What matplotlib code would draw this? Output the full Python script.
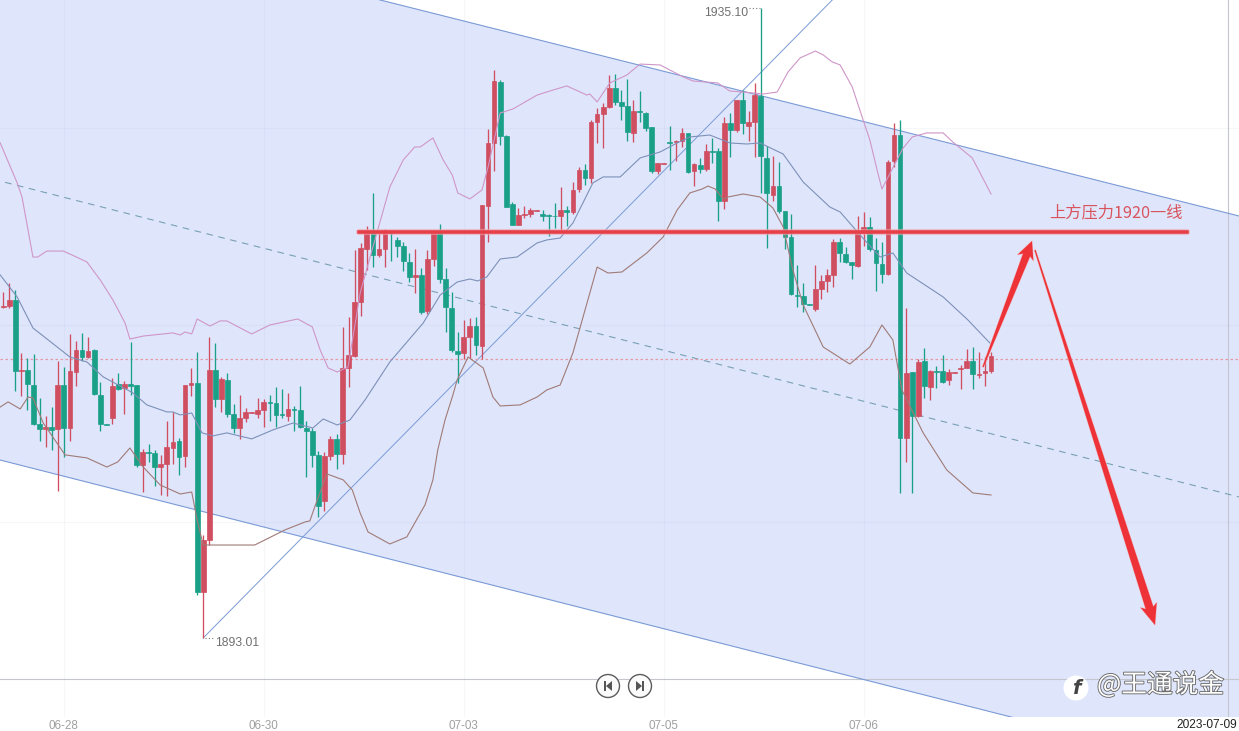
import matplotlib
matplotlib.use("Agg")
import matplotlib.pyplot as plt
import matplotlib.patheffects as pe
import numpy as np

opens = [1915.10,1915.21,1915.59,1910.87,1910.91,1909.91,1907.30,1906.99,1907.08,1906.95,
1909.91,1907.06,1910.80,1912.25,1911.78,1912.25,1909.24,1907.30,1907.70,1909.95,
1909.69,1909.95,1909.91,1904.59,1905.43,1905.39,1904.45,1904.63,1905.72,1906.19,
1905.19,1909.91,1910.05,1896.08,1899.56,1910.91,1908.97,1910.24,1907.97,1907.04,
1907.70,1908.06,1907.95,1908.24,1908.77,1908.68,1907.95,1907.84,1908.28,1908.24,
1907.01,1906.81,1905.23,1902.18,1905.19,1906.28,1905.30,1911.02,
1911.84,1915.47,1918.99,1920.04,1918.59,1918.99,1920.08,1919.59,1919.19,1918.15,
1917.14,1917.26,1914.87,1918.32,1920.04,1916.99,1915.05,1912.18,1912.07,1913.11,
1913.85,1912.53,1921.89,1926.10,1930.17,1926.54,1922.00,1920.62,1921.26,1921.33,
1921.55,1921.33,1921.26,1921.22,1921.20,1921.60,1921.44,1923.00,1924.27,1923.76,
1927.50,1928.01,1928.50,1929.77,1928.84,1928.55,1926.77,1928.21,1928.10,1927.17,
1924.23,1924.67,1926.12,1926.17,1926.23,1926.72,1924.21,1924.59,1924.34,1925.54,
1925.54,1922.18,1927.39,1926.95,1928.95,1927.23,1927.50,1929.24,1925.05,1922.62,
1923.20,1921.51,1919.77,1915.94,1915.85,1915.32,1914.99,1916.32,1916.86,1917.26,
1919.46,1918.64,1918.13,1917.86,1920.04,1920.49,1918.93,1917.99,1917.32,1924.87,
1926.61,1906.34,1910.80,1907.86,1911.51,1909.80,1910.84,1910.84,1910.26,1910.71,
1910.95,1911.06,1911.51,1910.57,1910.69,1910.84]

highs = [1916.14,1916.70,1916.26,1912.02,1911.69,1911.96,1909.02,1907.84,1908.42,1911.51,
1911.13,1913.32,1912.85,1913.36,1913.09,1912.29,1910.09,1907.30,1910.35,1910.69,
1910.18,1912.76,1909.91,1905.61,1905.97,1905.57,1905.23,1907.50,1908.11,1906.35,
1909.91,1911.02,1912.12,1899.89,1913.12,1912.69,1910.47,1910.69,1908.64,1909.24,
1908.35,1908.11,1909.02,1908.95,1909.24,1909.75,1909.62,1909.35,1908.53,1909.86,
1907.50,1907.01,1905.52,1905.41,1906.50,1906.63,1913.81,1914.47,
1918.93,1919.42,1920.53,1922.71,1920.08,1920.31,1920.08,1919.82,1919.48,1918.75,
1918.97,1917.70,1918.93,1920.22,1920.66,1917.70,1916.14,1913.47,1914.25,1914.36,
1914.47,1921.93,1926.99,1930.95,1930.28,1926.61,1922.16,1921.71,1921.89,1921.75,
1921.60,1921.60,1921.33,1922.04,1923.16,1921.87,1923.49,1924.49,1924.67,1927.61,
1928.39,1928.72,1930.62,1930.68,1929.62,1930.33,1928.95,1929.55,1928.17,1927.17,
1924.76,1924.72,1927.21,1926.28,1927.06,1926.77,1924.72,1925.05,1926.01,1926.39,
1925.72,1927.84,1928.06,1928.95,1929.62,1928.21,1930.06,1935.10,1925.88,1925.21,
1924.78,1921.51,1921.33,1917.93,1916.70,1915.32,1917.93,1917.26,1917.64,1919.66,
1919.71,1919.15,1918.15,1921.20,1921.49,1921.15,1919.75,1919.48,1924.94,1927.44,
1927.61,1915.03,1910.80,1911.62,1912.36,1910.91,1911.18,1911.91,1910.95,1910.75,
1911.24,1912.31,1912.42,1912.09,1911.75,1912.13]

lows = [1915.03,1915.03,1909.53,1909.20,1908.24,1907.24,1906.17,1905.79,1905.57,1902.85,
1905.12,1906.17,1909.84,1911.53,1911.73,1909.24,1906.86,1907.26,1907.30,1909.57,
1907.97,1909.24,1904.41,1902.76,1904.79,1903.16,1902.56,1902.52,1904.63,1903.90,
1904.45,1909.17,1895.88,1893.01,1899.22,1908.46,1908.13,1907.75,1906.72,1906.28,
1907.44,1908.06,1907.68,1907.13,1907.50,1907.13,1907.68,1907.50,1906.86,1907.06,
1903.79,1904.45,1901.11,1901.51,1904.90,1904.30,1904.63,1909.75,
1911.80,1914.52,1917.59,1917.81,1918.44,1917.81,1918.21,1918.48,1917.55,1916.81,
1916.08,1914.65,1914.65,1917.86,1916.70,1913.47,1912.13,1910.06,1911.67,1911.69,
1911.91,1911.62,1919.48,1924.23,1925.94,1921.78,1920.57,1920.57,1921.04,1921.11,
1921.55,1920.84,1919.88,1920.37,1920.15,1920.53,1921.33,1922.82,1923.27,1923.42,
1926.05,1925.76,1928.39,1928.61,1927.61,1926.21,1926.16,1927.50,1926.90,1924.09,
1923.98,1924.67,1924.27,1924.90,1925.83,1924.05,1923.23,1924.09,1924.23,1924.72,
1920.89,1921.67,1925.16,1926.83,1926.66,1926.21,1925.16,1922.71,1919.04,1922.22,
1921.38,1918.99,1915.92,1915.14,1914.81,1915.28,1914.87,1915.63,1916.14,1916.43,
1918.10,1918.08,1916.97,1917.81,1919.22,1918.88,1916.21,1916.70,1917.26,1924.49,
1902.70,1904.74,1902.71,1907.79,1909.02,1908.90,1909.68,1910.02,1909.91,1910.71,
1909.64,1911.02,1909.64,1910.35,1909.84,1910.73]

closes = [1915.19,1915.59,1910.87,1910.91,1909.98,1907.30,1906.97,1907.08,1906.90,1909.91,
1907.06,1910.84,1912.25,1911.76,1912.18,1909.29,1907.30,1907.26,1909.84,1909.66,
1909.98,1909.86,1904.59,1905.43,1905.39,1904.43,1904.63,1905.79,1906.10,1905.12,
1909.91,1910.02,1896.08,1899.56,1910.91,1908.97,1910.31,1907.97,1907.04,1907.70,
1908.11,1908.11,1908.22,1908.77,1908.73,1907.90,1907.90,1908.31,1908.24,1907.13,
1906.84,1905.23,1901.83,1905.17,1906.30,1905.30,1911.02,1911.91,
1915.45,1919.04,1920.08,1918.59,1918.99,1920.04,1920.04,1919.19,1918.19,1917.14,
1917.26,1914.76,1918.30,1920.08,1916.99,1915.14,1912.25,1912.00,1913.11,1913.85,
1912.58,1921.93,1926.07,1930.22,1926.54,1921.82,1920.62,1921.26,1921.33,1921.60,
1921.60,1921.22,1921.22,1921.18,1921.60,1921.46,1922.93,1924.27,1923.76,1927.50,
1928.01,1928.46,1929.77,1928.84,1928.55,1926.83,1928.21,1928.17,1927.08,1924.23,
1924.72,1924.72,1926.08,1926.23,1926.72,1924.14,1924.67,1924.36,1925.54,1925.50,
1922.18,1927.39,1926.95,1928.95,1927.39,1927.46,1929.28,1925.23,1922.76,1923.20,
1921.56,1919.77,1915.99,1915.88,1915.32,1915.28,1916.30,1916.86,1917.26,1919.46,
1918.75,1918.15,1917.95,1920.11,1920.49,1918.97,1918.08,1917.32,1924.78,1926.61,
1906.37,1910.73,1907.86,1911.42,1909.86,1910.84,1910.80,1910.13,1910.75,1910.75,
1911.04,1911.51,1910.66,1910.64,1910.82,1911.87]

upper_x = [-1.5,1.3,2.1,3.9,4.7,6.2,8.9,10.0,12.8,15.0,17.1,19.1,19.9,22.1,27.0,28.2,29.0,30.1,31.0,33.1,34.8,35.9,40.0,43.0,47.6,50.0,51.3,52.6,54.1,55.9,57.9,60.0,62.8,65.0,66.9,67.8,69.9,71.6,73.1,74.0,76.0,78.0,79.0,81.0,83.1,87.1,89.2,92.0,95.3,95.8,97.0,99.1,101.9,104.1,107.4,111.2,112.8,116.9,118.9,121.1,124.4,126.7,128.5,130.5,133.0,134.3,135.8,137.1,139.1,140.9,142.0,143.2,144.0,146.2,147.5,149.0,151.4,154.1,155.7,158.9,162.0]
upper = [1926.08,1923.41,1922.47,1918.46,1918.46,1918.86,1918.86,1918.66,1918.13,1916.93,1915.59,1914.05,1912.98,1913.18,1913.39,1913.25,1913.45,1913.32,1914.32,1913.85,1914.19,1914.19,1913.32,1913.92,1914.32,1913.79,1912.25,1911.05,1910.78,1911.11,1916.06,1919.13,1923.14,1924.94,1925.81,1925.81,1926.41,1924.94,1923.94,1922.74,1922.34,1922.94,1924.47,1928.08,1928.35,1929.28,1929.55,1929.89,1929.28,1929.35,1928.82,1930.09,1930.62,1931.35,1931.29,1930.49,1930.22,1930.09,1929.55,1929.48,1929.35,1929.48,1930.82,1931.76,1932.22,1931.96,1931.49,1931.29,1929.82,1927.61,1926.28,1924.27,1923.00,1924.74,1925.74,1926.48,1926.75,1926.75,1926.14,1925.08,1922.67]

middle_x = [-1.5,1.3,3.9,7.9,10.0,12.8,15.5,20.4,22.7,26.0,27.0,28.2,30.1,31.8,33.6,35.9,40.0,43.5,46.8,50.1,51.8,54.1,56.2,58.7,62.8,68.3,71.1,73.9,76.0,77.3,78.8,81.0,83.8,87.1,88.7,90.9,93.0,96.3,98.0,100.8,104.1,107.4,110.2,112.3,115.6,118.9,121.7,123.9,127.7,131.0,135.4,137.1,140.4,143.7,145.8,148.1,154.1,158.2,161.8]
middle = [1917.26,1915.79,1913.72,1912.45,1911.78,1911.45,1910.45,1909.38,1908.58,1908.11,1908.11,1907.91,1908.04,1906.71,1906.51,1906.71,1906.31,1906.91,1907.37,1907.04,1907.64,1907.24,1907.57,1908.91,1911.45,1914.05,1915.92,1916.79,1916.99,1916.86,1917.13,1918.33,1918.46,1919.40,1919.60,1919.73,1920.73,1923.41,1923.81,1923.81,1925.08,1925.48,1926.08,1926.48,1926.61,1926.08,1926.01,1926.08,1925.34,1923.47,1921.80,1921.47,1919.93,1918.46,1918.73,1917.39,1915.79,1914.25,1912.72]

lower_x = [-1.5,-0.2,1.8,3.1,3.9,5.6,9.2,12.8,16.1,17.9,19.9,22.1,24.9,28.2,30.1,31.0,32.0,40.5,45.5,48.8,49.6,50.4,52.4,55.1,56.6,57.9,59.2,62.8,65.6,68.6,69.9,70.7,71.9,73.2,73.9,75.7,78.2,79.8,81.0,84.3,87.1,88.7,90.9,93.0,95.8,97.0,98.8,101.1,105.2,107.9,110.2,112.3,114.3,115.3,116.5,117.8,118.6,121.1,123.9,126.0,127.7,129.3,131.0,134.3,138.7,142.0,144.0,145.8,147.3,150.8,154.7,159.0,162.0]
lower = [1908.44,1908.78,1908.31,1909.11,1909.04,1907.37,1905.24,1905.04,1904.43,1904.77,1905.70,1904.43,1903.23,1902.63,1902.76,1900.89,1899.22,1899.22,1900.23,1900.76,1900.83,1901.76,1903.97,1903.57,1902.90,1901.36,1900.09,1899.29,1899.76,1901.90,1903.57,1905.57,1907.57,1909.24,1910.25,1911.78,1911.05,1909.11,1908.51,1908.58,1909.11,1909.58,1909.91,1912.05,1916.06,1917.79,1917.39,1917.46,1918.73,1919.80,1921.60,1922.74,1923.00,1923.20,1923.00,1922.34,1922.47,1922.67,1922.47,1921.74,1920.47,1917.59,1915.26,1912.45,1911.31,1912.45,1913.92,1912.92,1909.58,1906.71,1904.23,1902.70,1902.56]

# channel and trend drawing
channel_x = [-1.535, 202.92]
channel_top = [1942.02, 1921.20]
channel_bot = [1904.90, 1883.86]
mid_x = [-0.7, 202.92]
channel_mid = [1923.45, 1902.43]
trend_x = [32.0, 135.8]
trend_y = [1893.01, 1935.63]
resist_x = [57.7, 194.3]
resist_y = [1920.10, 1920.10]
last_price = 1911.68
high_price = 1935.10
low_price = 1893.01

tick_pos = [9, 42, 75, 108, 141]
tick_labels = ["06-28", "06-30", "07-03", "07-05", "07-06"]
grid_prices = [1927.08, 1913.92, 1900.76]

RED = "#cf4e60"
GREEN = "#1ba088"
CJK = ["Noto Sans CJK SC", "DejaVu Sans"]
LAT = "Liberation Sans"

fig = plt.figure(figsize=(12.39, 7.31), dpi=100)
ax = fig.add_axes([0, 14 / 731, 1, 717 / 731])
ax.set_xlim(channel_x[0], channel_x[1])
ax.set_ylim(1887.73, 1935.63)
for s in ax.spines.values():
    s.set_visible(False)

ax.set_xticks(tick_pos)
ax.set_xticklabels(tick_labels, fontname=LAT, fontsize=8.4, color="#a0a0a0")
ax.set_yticks(grid_prices)
ax.set_yticklabels([])
ax.tick_params(length=0, pad=2.5)
ax.grid(True, color="#7f8fb0", alpha=0.07, lw=0.8, zorder=2)
ax.set_axisbelow(False)

ax.fill_between(channel_x, channel_top, channel_bot, color="#dfe6fc", lw=0, zorder=1)
ax.plot(channel_x, channel_top, color="#7a9ad6", lw=0.8, zorder=3)
ax.plot(channel_x, channel_bot, color="#7a9ad6", lw=0.8, zorder=3)
ax.plot(mid_x, channel_mid, color="#78a0b4", lw=0.8, ls=(0, (6, 5)), zorder=3)
ax.plot(trend_x, trend_y, color="#7a9ad6", lw=0.7, zorder=3)
ax.axhline(1890.27, color="#c3c6cc", lw=0.8, zorder=2)
ax.axvline(201.1, color="#c3c6cc", lw=0.8, zorder=2)
ax.axhline(last_price, color="#e39aa5", lw=0.9, ls=(0, (2, 2)), zorder=3)

# candles
idx = np.arange(-1, len(opens) - 1)
o = np.array(opens)
c = np.array(closes)
col = [RED if cl >= op else GREEN for op, cl in zip(o, c)]
ax.vlines(idx, lows, highs, colors=col, lw=0.95, zorder=4)
ax.bar(idx, np.abs(c - o), bottom=np.minimum(o, c), width=0.78, color=col, edgecolor=col, lw=0.5, zorder=5)

ax.plot(upper_x, upper, color="#cf96c8", lw=0.8, zorder=6)
ax.plot(middle_x, middle, color="#7d90b8", lw=0.8, zorder=6)
ax.plot(lower_x, lower, color="#a07a76", lw=0.8, zorder=6)

ax.plot(resist_x, resist_y, color="#f4a3a8", lw=4.4, alpha=0.6, solid_capstyle="round", zorder=7)
ax.plot(resist_x, resist_y, color="#e5404a", lw=2.6, zorder=8)

ax.annotate("1935.10", (124, high_price), xytext=(-13, -5), textcoords="offset pixels", ha="right", va="center",
            fontname=LAT, fontsize=8.7, color="#707070", zorder=9)
ax.annotate("1893.01", (32, low_price), xytext=(12, -5), textcoords="offset pixels", ha="left", va="center",
            fontname=LAT, fontsize=8.7, color="#707070", zorder=9)

# overlay in picture pixels for the hand drawn things
ann = fig.add_axes([0, 0, 1, 1])
ann.set_xlim(0, 1239)
ann.set_ylim(731, 0)
ann.axis("off")
ann.patch.set_alpha(0)

ann.plot([749, 760], [8, 8], color="#777777", lw=0.8, ls=(0, (1, 2)))
ann.plot([205, 214], [638, 638], color="#777777", lw=0.8, ls=(0, (1, 2)))

ann.text(1049, 213, "上方压力1920一线", family=CJK, fontsize=11.7, color="#d9535c", va="center", ha="left")


def brush_arrow(tail, tip, neck, wing, head):
    tail = np.array(tail, float)
    tip = np.array(tip, float)
    u = (tip - tail) / np.linalg.norm(tip - tail)
    n = np.array([-u[1], u[0]])
    base = tip - u * head
    pts = [tail + n * 0.6, base + n * neck, base + n * wing - u * 3, tip,
           base - n * wing - u * 3, base - n * neck, tail - n * 0.6]
    pts = np.array(pts)
    ann.fill(pts[:, 0], pts[:, 1], color="#ee3338", lw=0, zorder=10)
    ann.plot(pts[:, 0], pts[:, 1], color="#f7a9ab", lw=0.8, alpha=0.6, zorder=9)


brush_arrow((983, 367), (1032, 241), 3.8, 8.5, 15)
brush_arrow((1035, 250), (1155, 625), 4.0, 8.5, 18)

# next / previous buttons
for bx, flip in [(608, 1), (640, -1)]:
    ann.add_patch(plt.Circle((bx, 686), 11.5, fc="#fbfbfb", ec="#5c5c5c", lw=1, zorder=10))
    ann.fill([bx + flip * 4, bx - flip * 2, bx + flip * 4], [681, 686, 691], color="#555555", lw=0, zorder=11)
    ann.fill([bx - flip * 4, bx - flip * 2, bx - flip * 2, bx - flip * 4], [681, 681, 691, 691], color="#555555", lw=0, zorder=11)

# watermark
ann.add_patch(plt.Circle((1076, 688), 12.5, fc="#ffffff", ec="none", zorder=10))
ann.text(1076, 688, "f", family="DejaVu Sans", style="italic", weight="bold", fontsize=14, color="#444444", ha="center", va="center", zorder=11)
shadow = [pe.withStroke(linewidth=1.3, foreground="#6a6a6a")]
ann.text(1097, 685, "@王通说金", family=CJK, fontsize=18.5, color="#ffffff", ha="left", va="center",
         path_effects=shadow, zorder=11)

# crosshair date box
ann.add_patch(plt.Rectangle((1172, 717), 67, 14, fc="#ffffff", ec="none", zorder=10))
ann.text(1176, 725, "2023-07-09", fontname=LAT, fontsize=8.6, color="#222222", ha="left", va="center", zorder=11)

fig.savefig("out.png", dpi=100)
